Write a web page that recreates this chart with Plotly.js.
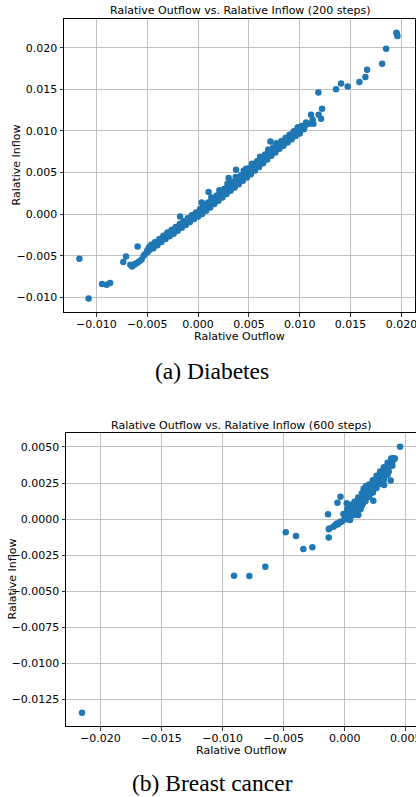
<!DOCTYPE html>
<html>
<head>
<meta charset="utf-8">
<script src="https://cdn.plot.ly/plotly-3.0.1.min.js"></script>
<style>html,body{margin:0;padding:0;background:#fff;}#chart{width:416px;height:797px;}</style>
</head>
<body>
<div id="chart"></div>
<script>
// ---- Diabetes (200 steps): [relative outflow, relative inflow] ----
const diabetesSparseLow = [
  [-0.01167,-0.00537],[-0.01076,-0.01014],[-0.00944,-0.00841],[-0.00899,-0.00850],[-0.00865,-0.00829],
  [-0.00735,-0.00577],[-0.00708,-0.00510],[-0.00666,-0.00609],[-0.00649,-0.00630],[-0.00630,-0.00612],
  [-0.00620,-0.00600],[-0.00600,-0.00589],[-0.00580,-0.00570],[-0.00555,-0.00545],[-0.00535,-0.00501],
  [-0.00520,-0.00480],[-0.00500,-0.00440],[-0.00495,-0.00455],[-0.00475,-0.00430],
  [-0.00594,-0.00389],[-0.00177,-0.00029]
];
const diabetesBandCenter = [
  [-0.00490,-0.00420],[-0.00480,-0.00395],[-0.00470,-0.00410],[-0.00460,-0.00385],[-0.00450,-0.00395],
  [-0.00440,-0.00375],[-0.00430,-0.00385],[-0.00420,-0.00365],[-0.00410,-0.00360],[-0.00400,-0.00345],
  [-0.00390,-0.00335],[-0.00380,-0.00330],[-0.00370,-0.00315],[-0.00360,-0.00310],[-0.00350,-0.00290],
  [-0.00340,-0.00295],[-0.00330,-0.00280],[-0.00320,-0.00270],[-0.00310,-0.00265],[-0.00300,-0.00250],
  [-0.00290,-0.00255],[-0.00280,-0.00240],[-0.00270,-0.00230],[-0.00260,-0.00225],[-0.00250,-0.00205],
  [-0.00240,-0.00215],[-0.00230,-0.00200],[-0.00220,-0.00190],[-0.00210,-0.00185],[-0.00200,-0.00175],
  [-0.00190,-0.00165],[-0.00180,-0.00160],[-0.00170,-0.00150],[-0.00160,-0.00145],[-0.00150,-0.00135],
  [-0.00140,-0.00125],[-0.00130,-0.00120],[-0.00120,-0.00100],[-0.00110,-0.00105],[-0.00100,-0.00085],
  [-0.00090,-0.00080],[-0.00080,-0.00070],[-0.00070,-0.00060],[-0.00060,-0.00045],[-0.00050,-0.00050],
  [-0.00040,-0.00030],[-0.00030,-0.00025],[-0.00020,-0.00010],[-0.00010,-0.00005],[0.00000,0.00000],
  [0.00010,0.00005],[0.00020,0.00010],[0.00030,0.00030],[0.00040,0.00025],[0.00050,0.00040],
  [0.00060,0.00045],[0.00070,0.00060],[0.00080,0.00070],[0.00090,0.00080],[0.00100,0.00085],
  [0.00110,0.00100],[0.00120,0.00105],[0.00130,0.00120],[0.00140,0.00125],[0.00150,0.00140],
  [0.00160,0.00145],[0.00170,0.00160],[0.00180,0.00165],[0.00190,0.00180],[0.00200,0.00185],
  [0.00210,0.00200],[0.00220,0.00210],[0.00230,0.00215],[0.00240,0.00230],[0.00250,0.00240],
  [0.00260,0.00245],[0.00270,0.00260],[0.00280,0.00265],[0.00290,0.00285],[0.00300,0.00285],
  [0.00310,0.00305],[0.00320,0.00305],[0.00330,0.00325],[0.00340,0.00330],[0.00350,0.00345],
  [0.00360,0.00350],[0.00370,0.00365],[0.00380,0.00370],[0.00390,0.00385],[0.00400,0.00390],
  [0.00410,0.00410],[0.00420,0.00410],[0.00430,0.00430],[0.00440,0.00430],[0.00450,0.00445],
  [0.00460,0.00450],[0.00470,0.00465],[0.00480,0.00470],[0.00490,0.00485],[0.00500,0.00495],
  [0.00510,0.00505],[0.00520,0.00515],[0.00530,0.00525],[0.00540,0.00530],[0.00550,0.00545],
  [0.00560,0.00555],[0.00570,0.00565],[0.00580,0.00575],[0.00590,0.00590],[0.00600,0.00595],
  [0.00610,0.00610],[0.00620,0.00620],[0.00630,0.00630],[0.00640,0.00640],[0.00650,0.00650],
  [0.00660,0.00670],[0.00670,0.00675],[0.00680,0.00690],[0.00690,0.00700],[0.00700,0.00715],
  [0.00710,0.00720],[0.00720,0.00735],[0.00730,0.00740],[0.00740,0.00755],[0.00750,0.00760],
  [0.00760,0.00775],[0.00770,0.00780],[0.00780,0.00795],[0.00790,0.00800],[0.00800,0.00815],
  [0.00810,0.00820],[0.00820,0.00830],[0.00830,0.00840],[0.00840,0.00850],[0.00850,0.00860],
  [0.00860,0.00870],[0.00870,0.00880],[0.00880,0.00890],[0.00890,0.00895],[0.00900,0.00910],
  [0.00910,0.00920],[0.00920,0.00930],[0.00930,0.00940],[0.00940,0.00950],[0.00950,0.00960],
  [0.00960,0.00975],[0.00970,0.00990],[0.00980,0.01000],[0.00990,0.00980],[0.01000,0.01010],
  [0.01010,0.01035],[0.01020,0.01030],[0.01030,0.01040],[0.01040,0.01020],[0.01050,0.01060]
];
const diabetesBandLower = [
  [-0.00440,-0.00410],[-0.00400,-0.00375],[-0.00360,-0.00335],[-0.00320,-0.00300],[-0.00280,-0.00265],
  [-0.00240,-0.00235],[-0.00200,-0.00200],[-0.00160,-0.00165],[-0.00120,-0.00130],[-0.00080,-0.00095],
  [-0.00040,-0.00060],[0.00000,-0.00030],[0.00040,0.00000],[0.00080,0.00040],[0.00120,0.00080],
  [0.00160,0.00120],[0.00200,0.00160],[0.00240,0.00200],[0.00280,0.00240],[0.00320,0.00280],
  [0.00360,0.00320],[0.00400,0.00360],[0.00440,0.00400],[0.00480,0.00440],[0.00520,0.00480],
  [0.00560,0.00525],[0.00600,0.00565],[0.00640,0.00610],[0.00680,0.00655],[0.00720,0.00700],
  [0.00760,0.00740],[0.00800,0.00785],[0.00840,0.00820],[0.00880,0.00860],[0.00920,0.00900],
  [0.00960,0.00940],[0.01000,0.00970]
];
const diabetesBandMidUpper = [
  [-0.00440,-0.00365],[-0.00360,-0.00295],[-0.00280,-0.00225],[-0.00200,-0.00155],[-0.00120,-0.00085],
  [-0.00040,-0.00010],[0.00040,0.00060],[0.00120,0.00145],[0.00200,0.00225],[0.00280,0.00310],
  [0.00360,0.00390],[0.00440,0.00475],[0.00520,0.00555],[0.00600,0.00640],[0.00680,0.00720],
  [0.00760,0.00800],[0.00840,0.00875],[0.00920,0.00955]
];
const diabetesBandUpperEdge = [
  [-0.00460,-0.00370],[-0.00420,-0.00335],[-0.00380,-0.00300],[-0.00340,-0.00260],[-0.00300,-0.00225],
  [-0.00260,-0.00190],[-0.00220,-0.00155],[-0.00180,-0.00120],[-0.00140,-0.00085],[-0.00100,-0.00050],
  [-0.00060,-0.00015],[-0.00020,0.00020],[0.00020,0.00060],[0.00060,0.00100],[0.00100,0.00140],
  [0.00140,0.00180],[0.00180,0.00220],[0.00220,0.00260],[0.00260,0.00305],[0.00300,0.00345],
  [0.00340,0.00385],[0.00380,0.00425],[0.00420,0.00465],[0.00460,0.00510],[0.00500,0.00550],
  [0.00540,0.00590],[0.00580,0.00635],[0.00620,0.00675],[0.00660,0.00715],[0.00700,0.00760],
  [0.00740,0.00800],[0.00780,0.00840],[0.00820,0.00880],[0.00860,0.00915],[0.00900,0.00955],
  [0.00940,0.00990],[0.00985,0.01040],[0.01020,0.01060]
];
const diabetesBandTop = [
  [0.00050,0.00115],[0.00130,0.00200],[0.00210,0.00285],[0.00290,0.00365],[0.00370,0.00445],
  [0.00450,0.00525],[0.00530,0.00605],[0.00610,0.00690],[0.00690,0.00775],[0.00770,0.00850]
];
const diabetesBandOutliersUp = [
  [-0.00420,-0.00340],[-0.00300,-0.00225],[-0.00250,-0.00190],[-0.00150,-0.00105],[-0.00060,-0.00020],
  [0.00035,0.00139],[0.00060,0.00080],[0.00104,0.00264],[0.00150,0.00175],[0.00250,0.00270],
  [0.00301,0.00433],[0.00330,0.00360],[0.00374,0.00532],[0.00420,0.00440],[0.00472,0.00544],
  [0.00500,0.00530],[0.00580,0.00610],[0.00650,0.00690],[0.00711,0.00873],[0.00750,0.00790],
  [0.00820,0.00860],[0.00880,0.00920],[0.00950,0.01000],[0.00980,0.01040]
];
const diabetesSparseHigh = [
  [0.01062,0.01100],[0.01094,0.01085],[0.01111,0.01193],[0.01127,0.01133],[0.01134,0.01085],
  [0.01183,0.01462],[0.01186,0.01193],[0.01209,0.01145],[0.01219,0.01266],[0.01357,0.01502],
  [0.01406,0.01570],[0.01471,0.01534],[0.01586,0.01587],[0.01645,0.01647],[0.01662,0.01734],
  [0.01810,0.01807],[0.01849,0.01987],[0.01950,0.02180],[0.01955,0.02165],[0.01960,0.02140]
];

// ---- Breast cancer (600 steps): [relative outflow, relative inflow] ----
const breastSparse = [
  [-0.02150,-0.01343],[-0.00906,-0.00393],[-0.00781,-0.00395],[-0.00650,-0.00331],[-0.00483,-0.00092],
  [-0.00399,-0.00118],[-0.00339,-0.00208],[-0.00265,-0.00196],[-0.00137,0.00033],[-0.00131,-0.00071],
  [-0.00126,-0.00065],[-0.00131,-0.00127],[-0.00093,-0.00053],[-0.00079,-0.00042],[-0.00065,-0.00030],
  [-0.00038,-0.00019],[-0.00060,0.00113],[-0.00035,0.00155],[0.00016,0.00109],[-0.00011,0.00035],
  [0.00111,0.00028],[0.00043,-0.00007],[0.00234,0.00127],[0.00376,0.00268],[0.00322,0.00236],
  [0.00453,0.00501],[0.00174,0.00229]
];
const breastBandCenter = [
  [-0.00055,-0.00035],[-0.00030,-0.00020],[-0.00005,-0.00005],[0.00020,0.00005],
  [0.00020,0.00040],[0.00040,0.00060],[0.00060,0.00075],[0.00080,0.00090],[0.00100,0.00110],
  [0.00120,0.00130],[0.00140,0.00145],[0.00160,0.00165],[0.00180,0.00185],[0.00200,0.00200],
  [0.00220,0.00225],[0.00240,0.00245],[0.00260,0.00265],[0.00280,0.00285],[0.00300,0.00305],
  [0.00320,0.00325],[0.00340,0.00345],[0.00360,0.00365],[0.00380,0.00385],[0.00390,0.00400],
  [0.00400,0.00415]
];
const breastBandUpper = [
  [0.00020,0.00070],[0.00050,0.00100],[0.00080,0.00120],[0.00110,0.00150],[0.00140,0.00180],
  [0.00155,0.00210],[0.00170,0.00210],[0.00200,0.00240],[0.00230,0.00270],[0.00260,0.00300],
  [0.00290,0.00330],[0.00320,0.00360],[0.00350,0.00390],[0.00380,0.00420],[0.00395,0.00422],
  [0.00410,0.00420]
];
const breastBandMidUpper = [
  [0.00035,0.00055],[0.00065,0.00085],[0.00095,0.00115],[0.00125,0.00145],[0.00155,0.00175],
  [0.00185,0.00205],[0.00215,0.00235],[0.00245,0.00265],[0.00275,0.00295],[0.00305,0.00325],
  [0.00335,0.00355],[0.00365,0.00385]
];
const breastBandLower = [
  [0.00030,0.00010],[0.00060,0.00040],[0.00090,0.00060],[0.00120,0.00090],[0.00150,0.00110],
  [0.00180,0.00150],[0.00210,0.00180],[0.00240,0.00210],[0.00270,0.00240],[0.00300,0.00270],
  [0.00330,0.00300],[0.00360,0.00330],[0.00390,0.00370],[0.00070,0.00030],[0.00100,0.00050],
  [0.00130,0.00070],[0.00050,0.00020]
];
const breastBandLowerEdge = [
  [0.00080,0.00030],[0.00110,0.00060],[0.00140,0.00095],[0.00170,0.00125],[0.00200,0.00155],
  [0.00230,0.00185],[0.00260,0.00215],[0.00290,0.00245],[0.00320,0.00275],[0.00350,0.00305]
];

// tick settings
const diabTickStep = 0.005;
const breastXTickStep = 0.005;
const breastYTickStep = 0.0025;

function xs(){ let o=[]; for (const a of arguments) for (const p of a) o.push(p[0]); return o; }
function ys(){ let o=[]; for (const a of arguments) for (const p of a) o.push(p[1]); return o; }

const W = 416, H = 797;
const px = v => v / W;
const py = v => 1 - v / H;

const blue = '#1f77b4';
const marker = {size: 6.5, color: blue, line: {width: 0}};

const diabSets = [diabetesSparseLow, diabetesBandCenter, diabetesBandLower, diabetesBandMidUpper,
                  diabetesBandUpperEdge, diabetesBandTop, diabetesBandOutliersUp, diabetesSparseHigh];
const breastSets = [breastSparse, breastBandCenter, breastBandUpper, breastBandMidUpper,
                    breastBandLower, breastBandLowerEdge];

const data = [
  {type: 'scatter', mode: 'markers', x: xs(...diabSets), y: ys(...diabSets), marker: marker, xaxis: 'x', yaxis: 'y', hoverinfo: 'x+y'},
  {type: 'scatter', mode: 'markers', x: xs(...breastSets), y: ys(...breastSets), marker: marker, xaxis: 'x2', yaxis: 'y2', hoverinfo: 'x+y'}
];

const font = {family: 'DejaVu Sans, sans-serif', size: 11, color: '#000'};
const axisCommon = {
  showgrid: true, gridcolor: '#b0b0b0', gridwidth: 0.8,
  zeroline: false, showline: true, linecolor: '#000', linewidth: 1, mirror: true,
  ticks: 'outside', ticklen: 3.5, tickwidth: 0.8, tickcolor: '#000',
  tickfont: font, fixedrange: true, ticklabeloverflow: 'allow'
};

const layout = {
  width: W, height: H,
  margin: {l: 0, r: 0, t: 0, b: 0, pad: 0},
  paper_bgcolor: '#fff', plot_bgcolor: '#fff',
  showlegend: false,
  font: font,
  xaxis: Object.assign({}, axisCommon, {domain: [px(64), px(415)], range: [-0.01318, 0.02133], dtick: diabTickStep, tick0: 0, tickformat: '.3f', anchor: 'y', ticklabelstandoff: -2}),
  yaxis: Object.assign({}, axisCommon, {domain: [py(312), py(19)], range: [-0.01177, 0.02345], dtick: diabTickStep, tick0: 0, tickformat: '.3f', anchor: 'x'}),
  xaxis2: Object.assign({}, axisCommon, {domain: [px(66), 1], range: [-0.02281, 0.00583], dtick: breastXTickStep, tick0: 0, tickformat: '.3f', anchor: 'y2', ticklabelstandoff: -2}),
  yaxis2: Object.assign({}, axisCommon, {domain: [py(726), py(433)], range: [-0.01435, 0.00597], dtick: breastYTickStep, tick0: 0, tickformat: '.4f', anchor: 'x2'}),
  annotations: [
    {text: 'Ralative Outflow vs. Ralative Inflow (200 steps)', xref: 'paper', yref: 'paper', x: px(240), y: py(11), xanchor: 'center', yanchor: 'middle', showarrow: false, font: font},
    {text: 'Ralative Outflow', xref: 'paper', yref: 'paper', x: px(240), y: py(336), xanchor: 'center', yanchor: 'middle', showarrow: false, font: font},
    {text: 'Ralative Inflow', xref: 'paper', yref: 'paper', x: px(16), y: py(165.5), xanchor: 'center', yanchor: 'middle', textangle: -90, showarrow: false, font: font},
    {text: '(a) Diabetes', xref: 'paper', yref: 'paper', x: px(212), y: py(371), xanchor: 'center', yanchor: 'middle', showarrow: false, font: {family: 'Liberation Serif, Times New Roman, serif', size: 23.5, color: '#000'}},
    {text: 'Ralative Outflow vs. Ralative Inflow (600 steps)', xref: 'paper', yref: 'paper', x: px(241), y: py(425), xanchor: 'center', yanchor: 'middle', showarrow: false, font: font},
    {text: 'Ralative Outflow', xref: 'paper', yref: 'paper', x: px(241), y: py(750), xanchor: 'center', yanchor: 'middle', showarrow: false, font: font},
    {text: 'Ralative Inflow', xref: 'paper', yref: 'paper', x: px(12), y: py(579.5), xanchor: 'center', yanchor: 'middle', textangle: -90, showarrow: false, font: font},
    {text: '(b) Breast cancer', xref: 'paper', yref: 'paper', x: px(212.5), y: py(783), xanchor: 'center', yanchor: 'middle', showarrow: false, font: {family: 'Liberation Serif, Times New Roman, serif', size: 23.5, color: '#000'}}
  ]
};

Plotly.newPlot('chart', data, layout, {staticPlot: true, displayModeBar: false});
</script>
</body>
</html>
